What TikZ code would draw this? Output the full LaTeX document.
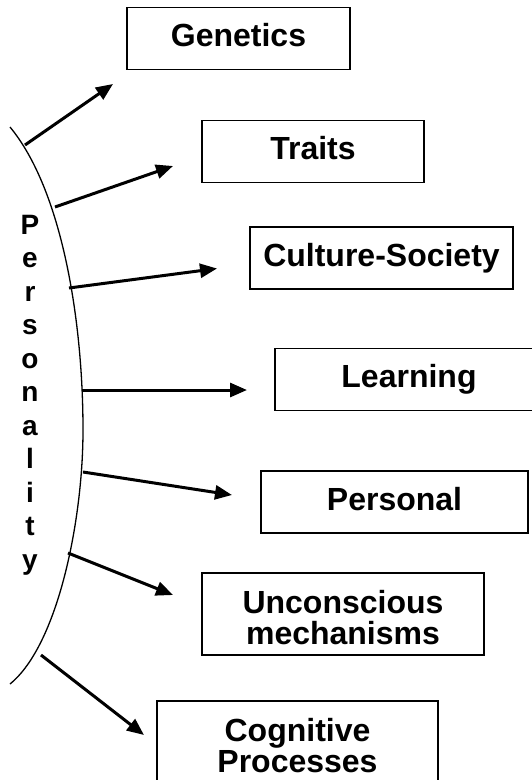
\documentclass[tikz,border=0pt]{standalone}
\usepackage{fontspec}
\setmainfont{Liberation Sans}
\usepackage{tikz}
\usetikzlibrary{arrows.meta}

\begin{document}
\begin{tikzpicture}[x=1pt,y=-1pt,
        box/.style={draw=black,line width=1.8pt,inner sep=0pt,minimum height=62pt,
            text height=23pt,text depth=7pt,font=\fontsize{32}{31}\selectfont\bfseries},
        bigbox/.style={draw=black,line width=1.8pt,inner sep=0pt,minimum height=82pt,
            align=center,text height=62pt,text depth=2pt,font=\fontsize{32}{31}\selectfont\bfseries},
        arr/.style={line width=3pt,-{Triangle[length=17pt,width=14pt]}}]

        \useasboundingbox (0,0) rectangle (531,780);

        \node[box,minimum width=223pt] (gen) at (238.5,38.5) {Genetics};
        \node[box,minimum width=222pt] (tra) at (313,151.5) {Traits};
        \node[box,minimum width=263pt] (cul) at (381.5,258) {Culture-Society};
        \node[box,minimum width=268pt] (lea) at (409,379.5) {Learning};
        \node[box,minimum width=267pt] (per) at (394.5,502) {Personal};
        \node[bigbox,minimum width=282pt] (unc) at (343,614) {Unconscious\\mechanisms};
        \node[bigbox,minimum width=281pt] (cog) at (297.5,742) {Cognitive\\Processes};

        % the arc and its letters
        \draw[line width=1.3pt] (10,127) .. controls (62,190) and (83,320) .. (83,430)
                                         .. controls (83,520) and (58,645) .. (10,684);
        \node[font=\fontsize{28}{33.5}\selectfont\bfseries,align=center,inner sep=0pt,anchor=north]
            (pers) at (30,215) {P\\e\\r\\s\\o\\n\\a\\l\\i\\t\\y};

        % arrow ends
        \coordinate (p1) at (25,145);   \coordinate (q1) at (113,84);
        \coordinate (p2) at (55,207);   \coordinate (q2) at (173,166);
        \coordinate (p3) at (69,288);   \coordinate (q3) at (217,268.5);
        \coordinate (p4) at (82,390);   \coordinate (q4) at (247,390);
        \coordinate (p5) at (83,472);   \coordinate (q5) at (232,495);
        \coordinate (p6) at (68,553);   \coordinate (q6) at (173,595);
        \coordinate (p7) at (41,655);   \coordinate (q7) at (144,735);

        \path[arr]
                  (p1) edge (q1)
                  (p2) edge (q2)
                  (p3) edge (q3)
                  (p4) edge (q4)
                  (p5) edge (q5)
                  (p6) edge (q6)
                  (p7) edge (q7);
\end{tikzpicture}
\end{document}
